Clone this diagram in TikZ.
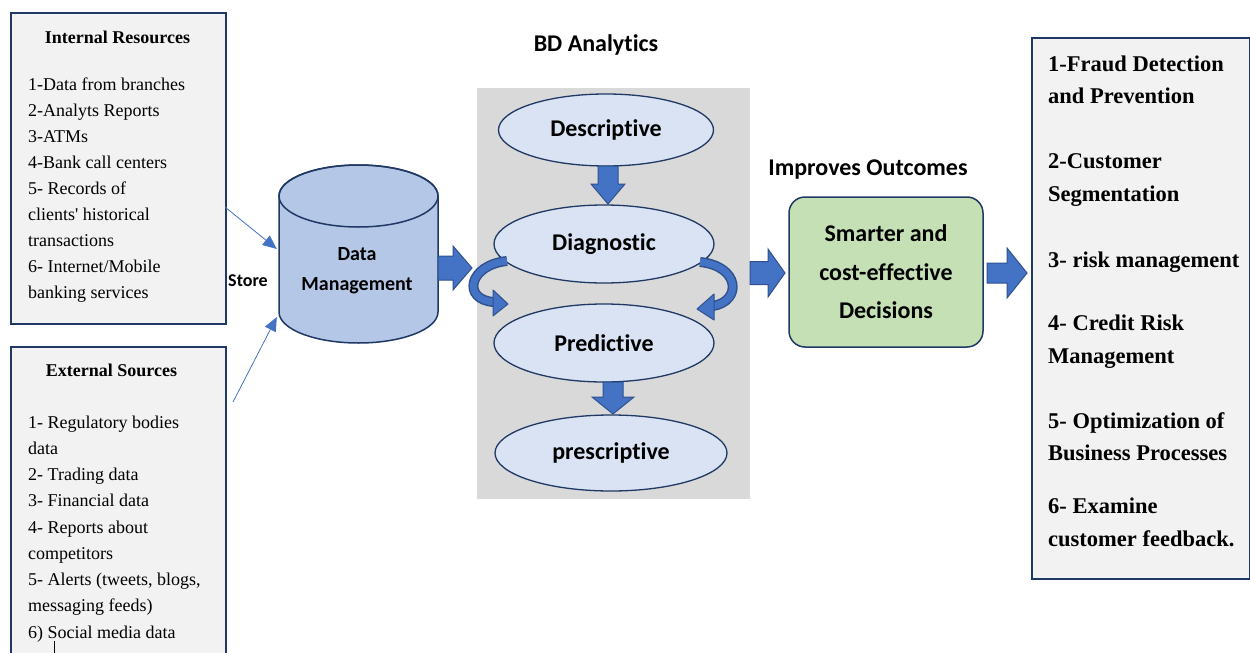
\documentclass[tikz,border=0pt]{standalone}
\usepackage{fontspec}
\setmainfont{Liberation Serif}
\setsansfont[Ligatures=NoCommon]{Carlito}
\usetikzlibrary{shapes.geometric,arrows.meta}

\definecolor{navy}{HTML}{1F3864}
\definecolor{boxgray}{HTML}{F2F2F2}
\definecolor{panelgray}{HTML}{D9D9D9}
\definecolor{ellfill}{HTML}{DAE3F3}
\definecolor{cylfill}{HTML}{B4C7E7}
\definecolor{arrowblue}{HTML}{4472C4}
\definecolor{arrowedge}{HTML}{2F528F}
\definecolor{greenfill}{HTML}{C5E0B4}

% horizontal block arrow: tail x, head-start x, tip x, centre y, shaft half, head half
\newcommand\hblockarrow[6]{%
  \filldraw[blockarrow] (#1,{#4-#5}) -- (#2,{#4-#5}) -- (#2,{#4-#6}) -- (#3,#4)
    -- (#2,{#4+#6}) -- (#2,{#4+#5}) -- (#1,{#4+#5}) -- cycle;}
% vertical block arrow: centre x, tail y, head-start y, tip y, shaft half, head half
\newcommand\vblockarrow[6]{%
  \filldraw[blockarrow] ({#1-#5},#2) -- ({#1+#5},#2) -- ({#1+#5},#3) -- ({#1+#6},#3)
    -- (#1,#4) -- ({#1-#6},#3) -- ({#1-#5},#3) -- cycle;}

\tikzset{
  srcbox/.style={draw=navy, line width=1.5pt, fill=boxgray, inner sep=0pt},
  srctitle/.style={font=\fontsize{18}{22}\selectfont\bfseries, inner sep=0pt},
  srctext/.style={font=\fontsize{18}{22}\selectfont, inner sep=0pt, anchor=base west},
  restext/.style={font=\fontsize{22.5}{26}\selectfont\bfseries, inner sep=0pt, anchor=base west},
  sanslabel/.style={font=\sffamily\bfseries\fontsize{24}{28}\selectfont, inner sep=0pt},
  stage/.style={ellipse, draw=navy, line width=1.3pt, fill=ellfill, inner sep=0pt,
    font=\sffamily\bfseries\fontsize{24}{28}\selectfont},
  blockarrow/.style={fill=arrowblue, draw=arrowedge, line width=1pt, line join=miter},
  thinarrow/.style={draw=arrowblue, line width=0.8pt, -{Triangle[length=14pt,width=12pt]}},
  curvedark/.style={draw=arrowedge, line width=10pt},
  curvefill/.style={draw=arrowblue, line width=7pt},
  curvehead/.style={fill=arrowblue, draw=arrowedge, line width=1pt, line join=round}
}

\begin{document}
\begin{tikzpicture}[x=1pt,y=-1pt]
\useasboundingbox (0,0) rectangle (1250,653);

% ---------- internal resources ----------
\node[srcbox, minimum width=215, minimum height=311, anchor=north west] (int) at (10,12) {};
\node[srctitle] (int-title) at (117.5,37) {Internal Resources};
\foreach \t [count=\i] in {1-Data from branches, 2-Analyts Reports, 3-ATMs,
    4-Bank call centers, 5- Records of, clients\textquotesingle{} historical, transactions,
    6- Internet/Mobile, banking services}
  \node[srctext] (int-\i) at (28,{90+26.1*(\i-1)}) {\t};

% ---------- external sources ----------
\node[srcbox, minimum width=215, minimum height=330, anchor=north west] (ext) at (10,346) {};
\node[srctitle] (ext-title) at (111.5,370) {External Sources};
\foreach \t [count=\i] in {1- Regulatory bodies, data, 2- Trading data, 3- Financial data,
    4- Reports about, competitors, {5- Alerts (tweets, blogs,}, messaging feeds),
    6) Social media data}
  \node[srctext] (ext-\i) at (28,{428+26.25*(\i-1)}) {\t};
\draw[line width=0.6pt] (54,641) -- (54,653);

% ---------- data management cylinder ----------
\node[minimum width=159, minimum height=178, inner sep=0pt] (cyl) at (358.5,254) {};
\filldraw[fill=cylfill, draw=navy, line width=1.5pt]
  (279,196) -- (279,312) arc[start angle=180, end angle=360, x radius=79.5pt, y radius=31pt]
  -- (438,196) arc[start angle=0, end angle=180, x radius=79.5pt, y radius=31pt] -- cycle;
\draw[navy, line width=1.5pt] (358.5,196) ellipse [x radius=79.5pt, y radius=31pt];
\node[font=\sffamily\bfseries\fontsize{20}{30}\selectfont, align=center, inner sep=0pt]
  (dm) at (357,271) {Data\\Management};
\node[font=\sffamily\bfseries\fontsize{18}{22}\selectfont, inner sep=0pt] (store) at (248,281) {Store};

\coordinate (intout) at (225,207);
\coordinate (extout) at (233,402);
\draw[thinarrow] (intout) -- ([shift={(-2,-5)}]cyl.west);
\draw[thinarrow] (extout) -- ([shift={(-2,63)}]cyl.west);

% ---------- analytics panel ----------
\node[sanslabel] (bd) at (596,45) {BD Analytics};
\node[fill=panelgray, minimum width=273, minimum height=411, inner sep=0pt] (panel) at (613.5,293.5) {};
\node[stage, minimum width=215, minimum height=72] (desc) at (606,130) {Descriptive};
\node[stage, minimum width=220, minimum height=78] (diag) at (604,244) {Diagnostic};
\node[stage, minimum width=220, minimum height=78] (pred) at (604,343) {Predictive};
\node[stage, minimum width=232, minimum height=76] (presc) at (611,453) {prescriptive};

\vblockarrow{608}{166}{184}{204}{10}{17}
\vblockarrow{613}{382}{397}{414}{10}{21}

% curved arrows from Diagnostic to Predictive
\draw[curvedark] (507,261) .. controls (468,265) and (462,300) .. (494,302);
\draw[curvefill] (507,261) .. controls (468,265) and (462,300) .. (494,302);
\filldraw[curvehead] (493,290) -- (508,304) -- (493,316) -- cycle;
\draw[curvedark] (700,262) .. controls (740,266) and (742,301) .. (713,306);
\draw[curvefill] (700,262) .. controls (740,266) and (742,301) .. (713,306);
\filldraw[curvehead] (714,294) -- (697,309) -- (714,320) -- cycle;

% ---------- outcomes ----------
\hblockarrow{438}{453}{472}{268}{12}{22}
\node[sanslabel] (imp) at (868,170) {Improves Outcomes};
\node[draw=navy, line width=1.5pt, fill=greenfill, rounded corners=16pt,
  minimum width=194, minimum height=150, inner sep=0pt, align=center,
  font=\sffamily\bfseries\fontsize{24}{38.5}\selectfont] (dec) at (886,272)
  {Smarter and\\cost-effective\\Decisions};
\hblockarrow{750}{768}{785}{273}{11.5}{24}
\hblockarrow{987}{1007}{1027}{273}{10}{25}

% ---------- results ----------
\node[srcbox, minimum width=218, minimum height=541, anchor=north west] (res) at (1031,37) {};
\foreach \y/\t [count=\i] in {71.5/1-Fraud Detection, 103.5/and Prevention,
    168.5/2-Customer, 201.5/Segmentation, 267.5/3- risk management,
    330.5/4- Credit Risk, 363.5/Management, 428.5/5- Optimization of,
    460.5/Business Processes, 513.5/6- Examine, 546.5/customer feedback.}
  \node[restext] (res-\i) at (1048,\y) {\t};
\end{tikzpicture}
\end{document}
